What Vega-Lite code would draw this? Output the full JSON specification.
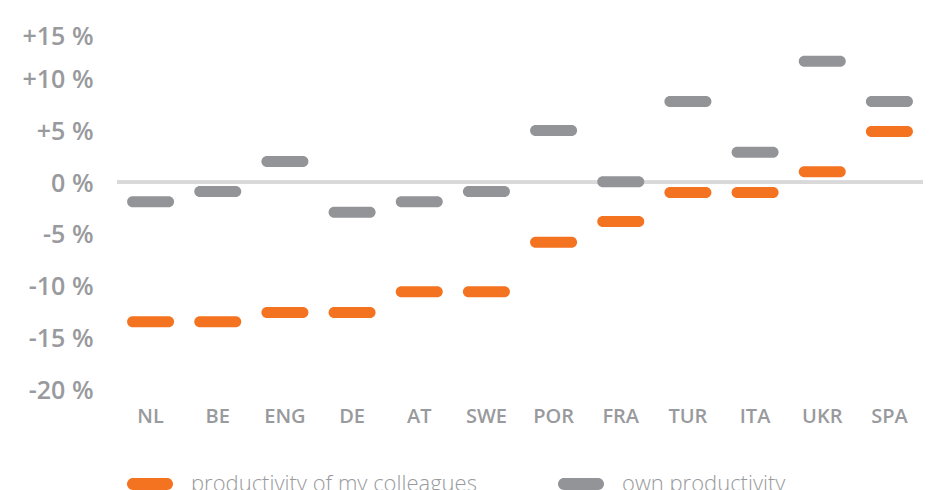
{
  "$schema": "https://vega.github.io/schema/vega-lite/v6.json",
  "width": 806,
  "height": 362,
  "autosize": {"type": "none"},
  "padding": {"left": 117, "top": 27, "right": 11, "bottom": 101},
  "background": "white",
  "config": {
    "view": {"stroke": null},
    "font": "Open Sans"
  },
  "data": {
    "values": [
      {"country": "NL", "series": "productivity of my colleagues", "value": -13.5},
      {"country": "BE", "series": "productivity of my colleagues", "value": -13.5},
      {"country": "ENG", "series": "productivity of my colleagues", "value": -12.6},
      {"country": "DE", "series": "productivity of my colleagues", "value": -12.6},
      {"country": "AT", "series": "productivity of my colleagues", "value": -10.6},
      {"country": "SWE", "series": "productivity of my colleagues", "value": -10.6},
      {"country": "POR", "series": "productivity of my colleagues", "value": -5.8},
      {"country": "FRA", "series": "productivity of my colleagues", "value": -3.8},
      {"country": "TUR", "series": "productivity of my colleagues", "value": -1.0},
      {"country": "ITA", "series": "productivity of my colleagues", "value": -1.0},
      {"country": "UKR", "series": "productivity of my colleagues", "value": 1.0},
      {"country": "SPA", "series": "productivity of my colleagues", "value": 4.9},
      {"country": "NL", "series": "own productivity", "value": -1.9},
      {"country": "BE", "series": "own productivity", "value": -0.9},
      {"country": "ENG", "series": "own productivity", "value": 2.0},
      {"country": "DE", "series": "own productivity", "value": -2.9},
      {"country": "AT", "series": "own productivity", "value": -1.9},
      {"country": "SWE", "series": "own productivity", "value": -0.9},
      {"country": "POR", "series": "own productivity", "value": 5.0},
      {"country": "FRA", "series": "own productivity", "value": 0.05},
      {"country": "TUR", "series": "own productivity", "value": 7.8},
      {"country": "ITA", "series": "own productivity", "value": 2.9},
      {"country": "UKR", "series": "own productivity", "value": 11.7},
      {"country": "SPA", "series": "own productivity", "value": 7.8}
    ]
  },
  "layer": [
    {
      "mark": {"type": "rule", "color": "#d9d9d9", "strokeWidth": 3},
      "encoding": {"y": {"datum": 0, "type": "quantitative"}}
    },
    {
      "mark": {"type": "tick", "size": 47, "thickness": 11, "cornerRadius": 5.5, "opacity": 1},
      "encoding": {
        "x": {
          "field": "country",
          "type": "nominal",
          "sort": ["NL", "BE", "ENG", "DE", "AT", "SWE", "POR", "FRA", "TUR", "ITA", "UKR", "SPA"],
          "scale": {"paddingInner": 0, "paddingOuter": 0},
          "axis": {
            "title": null,
            "domain": false,
            "ticks": false,
            "labelAngle": 0,
            "labelFontSize": 20,
            "labelFontWeight": 600,
            "labelColor": "#999a9d",
            "labelPadding": 17
          }
        },
        "y": {
          "field": "value",
          "type": "quantitative",
          "scale": {"domain": [-20, 15], "nice": false, "zero": false},
          "axis": {
            "title": null,
            "domain": false,
            "ticks": false,
            "grid": false,
            "values": [-20, -15, -10, -5, 0, 5, 10, 15],
            "labelExpr": "(datum.value > 0 ? '+' : '') + datum.value + ' %'",
            "labelFontSize": 25,
            "labelFontWeight": 600,
            "labelColor": "#999a9d",
            "labelPadding": 24,
            "labelOffset": {"condition": {"test": "datum.value == 15", "value": 9}, "value": 1}
          }
        },
        "color": {
          "field": "series",
          "type": "nominal",
          "sort": ["productivity of my colleagues", "own productivity"],
          "scale": {"range": ["#f47321", "#939498"]},
          "legend": {
            "title": null,
            "orient": "none",
            "legendX": 10,
            "legendY": 434,
            "direction": "horizontal",
            "symbolType": "M-0.74,-0.26 L0.74,-0.26 A0.26,0.26 0 0 1 0.74,0.26 L-0.74,0.26 A0.26,0.26 0 0 1 -0.74,-0.26 Z",
            "symbolSize": 2116,
            "symbolStrokeWidth": 0,
            "symbolOpacity": 1,
            "labelFontSize": 22,
            "labelFontWeight": 300,
            "labelColor": "#999a9d",
            "labelOffset": 18,
            "columnPadding": 80,
            "labelLimit": 400
          }
        }
      }
    }
  ]
}
